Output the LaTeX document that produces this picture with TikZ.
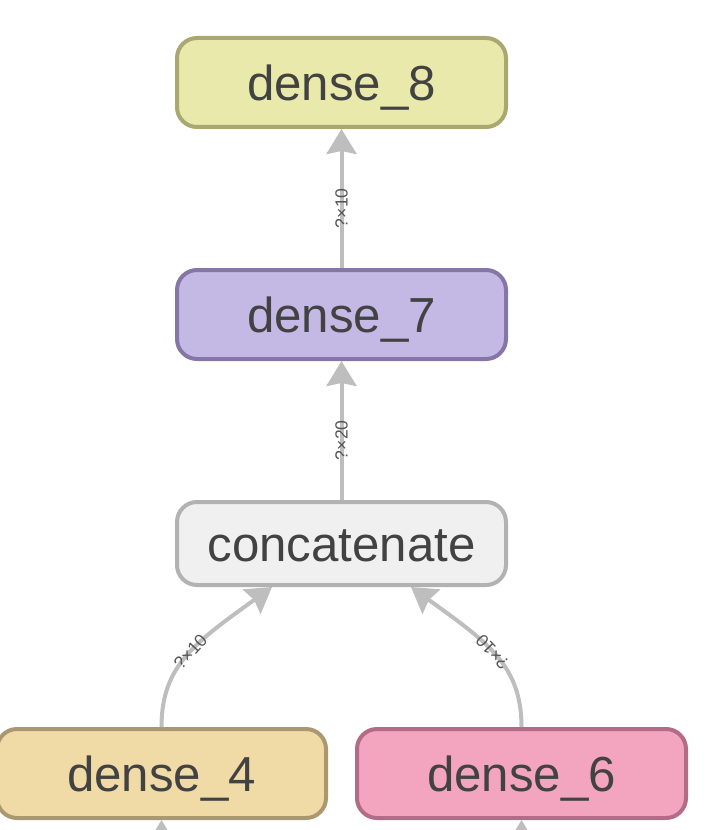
\documentclass[tikz,border=0pt]{standalone}
\usepackage{fontspec}
\setmainfont{Liberation Sans}
\usepackage{xcolor}
\usetikzlibrary{arrows.meta,positioning}
\definecolor{textgray}{RGB}{66,66,66}
\definecolor{labelgray}{RGB}{85,85,85}
\definecolor{edgegray}{RGB}{190,190,190}
\definecolor{yellowfill}{RGB}{232,233,170}
\definecolor{yellowline}{RGB}{168,168,112}
\definecolor{purplefill}{RGB}{196,184,228}
\definecolor{purpleline}{RGB}{134,118,168}
\definecolor{grayfill}{RGB}{240,240,240}
\definecolor{grayline}{RGB}{178,178,178}
\definecolor{tanfill}{RGB}{240,218,166}
\definecolor{tanline}{RGB}{170,152,112}
\definecolor{pinkfill}{RGB}{243,164,190}
\definecolor{pinkline}{RGB}{178,108,134}

\begin{document}
\begin{tikzpicture}[
    layer/.style={
        draw,
        rounded corners=0.4cm,
        line width=0.08cm,
        minimum width=6.58cm,
        minimum height=1.78cm,
        text height=21pt,
        text depth=0pt,
        text=textgray,
        font=\fontsize{28}{30}\selectfont
    },
    edge/.style={-{Stealth[length=0.5cm, width=0.6cm, inset=0.06cm]}, draw=edgegray, line width=0.08cm},
    dimlabel/.style={sloped, allow upside down, inner sep=1pt, text=labelgray, font=\fontsize{10}{11}\selectfont},
    node distance=2.78cm
]
\clip (0,0) rectangle (14.5,-16.6);

\node[layer, fill=grayfill, draw=grayline, minimum height=1.66cm] (concat) at (6.83,-10.87) {concatenate};
\node[layer, fill=purplefill, draw=purpleline, above=of concat] (dense7) {dense\_7};
\node[layer, fill=yellowfill, draw=yellowline, above=of dense7] (dense8) {dense\_8};
\node[layer, fill=tanfill, draw=tanline, below=2.8cm of concat, xshift=-3.6cm] (dense4) {dense\_4};
\node[layer, fill=pinkfill, draw=pinkline, below=2.8cm of concat, xshift=3.6cm] (dense6) {dense\_6};

% incoming edges, cut off at the bottom
\coordinate[below=1cm of dense4.south] (in4);
\coordinate[below=1cm of dense6.south] (in6);
\draw[edge] (in4) -- (dense4);
\draw[edge] (in6) -- (dense6);

\draw[edge] (dense4.north) .. controls +(0,1.24cm) and +(-1.52cm,-1.1cm) .. ([xshift=-1.39cm]concat.south)
  node[dimlabel, pos=0.52] {?×10};
\draw[edge] (dense6.north) .. controls +(0,1.24cm) and +(1.52cm,-1.1cm) .. ([xshift=1.39cm]concat.south)
  node[dimlabel, pos=0.52] {?×10};
\draw[edge] (concat) -- (dense7) node[dimlabel, pos=0.43] {?×20};
\draw[edge] (dense7) -- (dense8) node[dimlabel, pos=0.43] {?×10};
\end{tikzpicture}
\end{document}
